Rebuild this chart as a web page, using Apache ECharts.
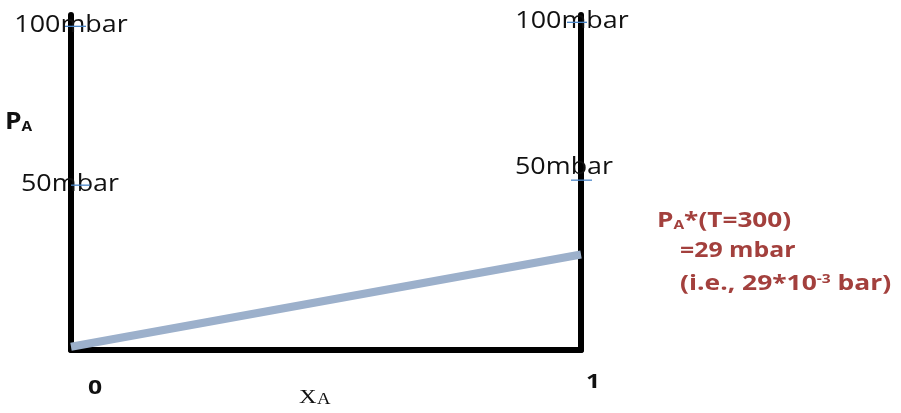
<!DOCTYPE html>
<html><head><meta charset="utf-8">
<script src="https://cdn.jsdelivr.net/npm/echarts@6/dist/echarts.min.js"></script>
<style>html,body{margin:0;padding:0;background:#fff}#c{width:901px;height:413px}</style>
</head><body><div id="c"></div>
<script>
const xValues = [0, 1];
const pValues = [1, 29.5];
const tickValues = [50, 100];
const tickLabels = ['50mbar', '100mbar'];
const xTickLabels = ['0', '1'];
const axisTitleY = ['P', 'A'];
const axisTitleX = ['X', 'A'];
const noteTitle = ['P', 'A', '*(T=300)'];
const noteLines = ['=29 mbar', '(i.e., 29*10', '-3', ' bar)'];

const chart = echarts.init(document.getElementById('c'));
const ink = '#000';
const blue = '#4a86c8';
const red = '#a3403d';
const font = '"Open Sans", "Noto Sans", sans-serif';

chart.setOption({
  animation: false,
  grid: {left: 71, right: 320, top: 15, bottom: 63},
  xAxis: {type: 'value', min: 0, max: 1, axisLine: {show: true, onZero: false, lineStyle: {color: ink, width: 6}},
    axisTick: {show: false}, axisLabel: {show: false}, splitLine: {show: false}},
  yAxis: [
    {type: 'value', min: 0, max: 103.5, position: 'left', axisLine: {show: true, lineStyle: {color: ink, width: 6}},
      axisTick: {show: false}, axisLabel: {show: false}, splitLine: {show: false}},
    {type: 'value', min: 0, max: 103.5, position: 'right', axisLine: {show: true, lineStyle: {color: ink, width: 6}},
      axisTick: {show: false}, axisLabel: {show: false}, splitLine: {show: false}}
  ],
  series: [{
    type: 'line', data: xValues.map((x, i) => [x, pValues[i]]), showSymbol: false, symbol: 'none',
    lineStyle: {color: '#9cb0cb', width: 8}, z: 3
  }]
});

const P = (x, y) => chart.convertToPixel({gridIndex: 0}, [x, y]);
const L100 = P(0, tickValues[1]), L50 = P(0, tickValues[0]);
const R100 = P(1, tickValues[1]), R50 = P(1, tickValues[0]);
const X0 = P(0, 0), X1 = P(1, 0);

function label(x, y, text, size, sx, extra) {
  return {type: 'text', x: x, y: y, scaleX: sx, z: 10,
    style: Object.assign({text: text, font: size + 'px ' + font, fill: '#111', align: 'center', verticalAlign: 'middle'}, extra || {})};
}
function tick(x0, x1, y) {
  return {type: 'line', z: 11, shape: {x1: x0, y1: y, x2: x1, y2: y}, style: {stroke: blue, lineWidth: 1.3}};
}

chart.setOption({graphic: [
  label(L100[0], L100[1] - 1, tickLabels[1], 24, 1.12),
  label(L50[0] - 1, L50[1] - 4, tickLabels[0], 24, 1.12),
  label(R100[0] - 9, R100[1] - 5, tickLabels[1], 24, 1.12),
  label(R50[0] - 17, R50[1] - 21, tickLabels[0], 24, 1.12),
  tick(L100[0] - 6, L100[0] + 15, L100[1]),
  tick(L50[0], L50[0] + 19, L50[1] - 3),
  tick(R100[0] - 14, R100[0] + 6, R100[1] - 4),
  tick(R50[0] - 10, R50[0] + 11, R50[1] - 8),
  {type: 'text', x: 5, y: 122, scaleX: 1.1, z: 10, style: {
    text: '{p|' + axisTitleY[0] + '}{s|' + axisTitleY[1] + '}', verticalAlign: 'middle',
    rich: {p: {font: 'bold 24px ' + font, fill: '#111', verticalAlign: 'bottom'},
           s: {font: 'bold 14px ' + font, fill: '#111', verticalAlign: 'bottom', padding: [0, 0, 0, 0]}}}},
  label(X0[0] + 24, X0[1] + 39, xTickLabels[0], 'bold 19', 1.3, {font: 'bold 19px ' + font}),
  label(X1[0] + 12, X1[1] + 33, xTickLabels[1], 'bold 19', 1.3, {font: 'bold 19px ' + font}),
  {type: 'text', x: 299, y: 398, scaleX: 1.35, z: 10, style: {text: axisTitleX[0], font: '18px "Liberation Serif", serif', fill: '#111', verticalAlign: 'middle'}},
  {type: 'text', x: 317, y: 400, scaleX: 1.1, z: 10, style: {text: axisTitleX[1], font: '17px "Liberation Serif", serif', fill: '#111', verticalAlign: 'middle'}},
  {type: 'text', x: 657, y: 221, scaleX: 1.19, z: 10, style: {
    text: '{n|' + noteTitle[0] + '}{s|' + noteTitle[1] + '}{n|' + noteTitle[2] + '}', verticalAlign: 'middle',
    rich: {n: {font: 'bold 22px ' + font, fill: red, verticalAlign: 'bottom'},
           s: {font: 'bold 13px ' + font, fill: red, verticalAlign: 'bottom'}}}},
  {type: 'text', x: 680, y: 251, scaleX: 1.13, z: 10, style: {text: noteLines[0], font: 'bold 22px ' + font, fill: red, verticalAlign: 'middle'}},
  {type: 'text', x: 680, y: 284, scaleX: 1.2, z: 10, style: {
    text: '{n|' + noteLines[1] + '}{s|' + noteLines[2] + '}{n|' + noteLines[3] + '}', verticalAlign: 'middle',
    rich: {n: {font: 'bold 22px ' + font, fill: red, verticalAlign: 'bottom'},
           s: {font: 'bold 13px ' + font, fill: red, verticalAlign: 'top'}}}}
]});
</script></body></html>
